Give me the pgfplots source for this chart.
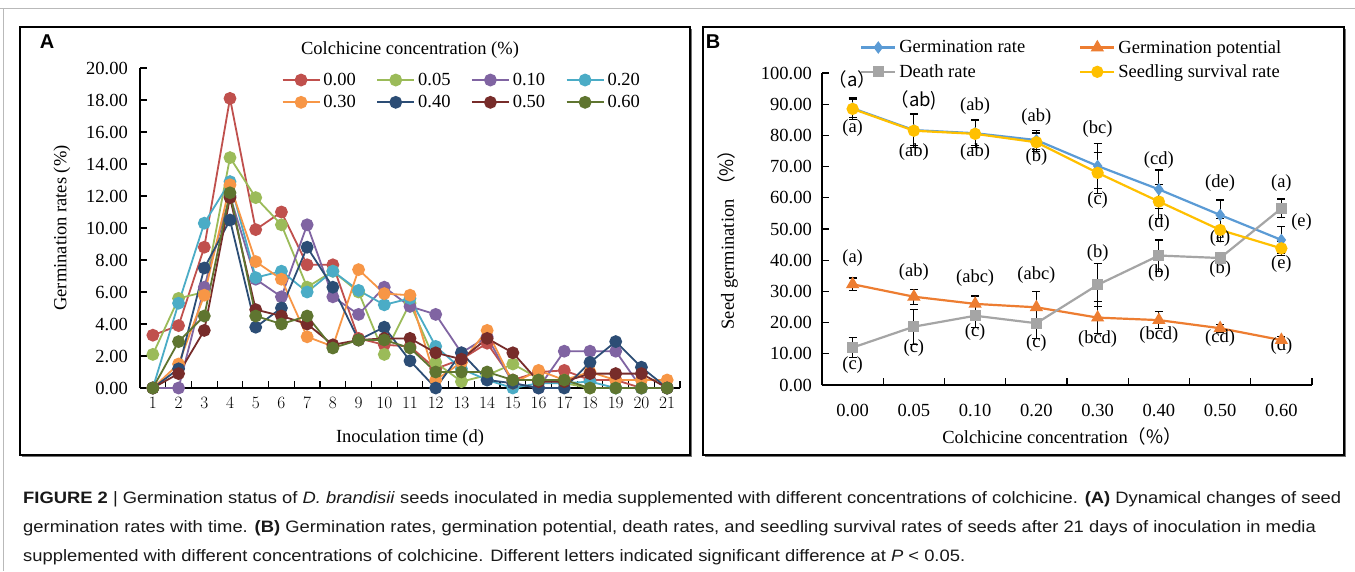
\documentclass[border=0pt]{standalone}
\usepackage{pgfplots}
\pgfplotsset{compat=1.18}
\usepackage{pgfplotstable}
\usepackage{graphicx}
\usepackage{fontspec}
\setmainfont{Liberation Serif}
\newfontfamily\capfont{Liberation Sans}
\newfontfamily\cjk{Noto Sans CJK SC}

% panel A colours (Excel 2010)
\definecolor{c1}{HTML}{C0504D}
\definecolor{c2}{HTML}{9BBB59}
\definecolor{c3}{HTML}{8064A2}
\definecolor{c4}{HTML}{4BACC6}
\definecolor{c5}{HTML}{F79646}
\definecolor{c6}{HTML}{2C4D75}
\definecolor{c7}{HTML}{772C2A}
\definecolor{c8}{HTML}{5F7530}
% panel B colours
\definecolor{bblue}{HTML}{5B9BD5}
\definecolor{borange}{HTML}{ED7D31}
\definecolor{bgrey}{HTML}{A5A5A5}
\definecolor{byellow}{HTML}{FFC000}

\newcommand{\lab}{\fontsize{18.5}{21}\selectfont}
\newcommand{\capsize}{\fontsize{16.5}{18}\selectfont\capfont}
\newcommand{\capA}{\textbf{FIGURE 2} | Germination status of \textit{D. brandisii} seeds inoculated in media supplemented with different concentrations of colchicine. \textbf{(A)} Dynamical changes of seed}
\newcommand{\capB}{germination rates with time. \textbf{(B)} Germination rates, germination potential, death rates, and seedling survival rates of seeds after 21 days of inoculation in media}
\newcommand{\capC}{supplemented with different concentrations of colchicine. Different letters indicated significant difference at \textit{P} < 0.05.}
\newlength\capw

% germination rate (%) per day, one column per colchicine concentration
\pgfplotstableread{
day  a    b    c    d    e    f    g    h
1    3.3  2.1  0    0    0    0    0    0
2    3.9  5.6  0    5.3  1.5  1.2  0.9  2.9
3    8.8  6.0  6.3  10.3 5.8  7.5  3.6  4.5
4    18.1 14.4 12.0 12.9 12.7 10.5 11.9 12.2
5    9.9  11.9 6.8  6.9  7.9  3.8  4.9  4.5
6    11.0 10.2 5.7  7.3  6.8  5.0  4.5  4.0
7    7.7  6.3  10.2 6.0  3.2  8.8  4.0  4.5
8    7.7  7.3  5.7  7.3  2.6  6.3  2.7  2.5
9    3.1  6.0  4.6  6.1  7.4  3.0  3.0  3.0
10   2.7  2.1  6.3  5.2  5.9  3.8  3.1  3.0
11   2.6  5.3  5.1  5.6  5.8  1.7  3.1  2.5
12   1.2  1.6  4.6  2.6  0.5  0    2.2  1.0
13   1.8  0.4  2.2  1.2  1.6  2.2  1.8  1.0
14   2.8  0.8  3.2  0.5  3.6  0.5  3.1  1.0
15   0.5  1.5  0.3  0    0.3  0.3  2.2  0.5
16   1.0  0.6  0    0.3  1.1  0    0.4  0.5
17   1.1  0.3  2.3  0.3  0.5  0    0.4  0.5
18   0.5  0    2.3  0.4  1.0  1.6  0.9  0
19   0.5  0    2.3  0    0.5  2.9  0.9  0
20   0    0    0    0    0.5  1.3  0.9  0
21   0    0    0    0    0.5  0    0    0
}\germA

% panel B: value and error for each index
\pgfplotstableread{
x  gr   gre  gp   gpe  dr   dre  ss   sse
0  88.7 3.0  32.3 2.0  12.0 3.2  88.5 3.5
1  81.7 5.0  28.3 2.4  18.7 5.6  81.5 5.4
2  80.7 4.0  26.0 2.5  22.2 3.7  80.5 4.5
3  78.5 3.0  24.9 5.0  19.8 4.8  77.8 3.0
4  70.2 7.3  21.6 5.1  32.1 6.9  68.0 6.5
5  62.7 6.2  20.8 2.7  41.5 5.0  58.8 5.5
6  54.5 4.8  18.2 1.2  40.7 1.2  49.7 3.7
7  46.5 4.2  14.4 1.2  56.6 3.0  43.8 2.3
}\germB

\pgfplotsset{
  lineA/.style={color=#1, line width=1.8pt, mark=*, mark size=5.5pt,
    mark options={solid, fill=#1}},
  ebar/.style={error bars/.cd, y dir=both, y explicit,
    error bar style={black, line width=1.2pt},
    error mark options={rotate=90, black, mark size=4pt, line width=1.2pt}},
}

\begin{document}%
\settowidth{\capw}{\capsize\capA}%
\pgfmathsetmacro\capsx{1318pt/\capw}%
\begin{tikzpicture}
\useasboundingbox (0,0) rectangle (1355pt,-571pt);
\fill[white] (0,0) rectangle (1355pt,-571pt);

% outer figure border
\draw[gray!55, line width=0.8pt] (0,-8pt) -- (1355pt,-8pt);
\draw[gray!55, line width=0.8pt] (3pt,-8pt) -- (3pt,-571pt);

% panel frames
\draw[line width=1.4pt] (20pt,-27pt) rectangle (690pt,-455pt);
\draw[black!55, line width=1.4pt] (691.5pt,-29pt) -- (691.5pt,-456.5pt) -- (22pt,-456.5pt);
\draw[line width=1.4pt] (703pt,-27pt) rectangle (1344pt,-455pt);
\draw[black!55, line width=1.4pt] (1345.5pt,-29pt) -- (1345.5pt,-456.5pt) -- (705pt,-456.5pt);

\node[font=\fontsize{20}{22}\selectfont\capfont\bfseries] at (47pt,-42pt) {A};
\node[font=\fontsize{20}{22}\selectfont\capfont\bfseries] at (713pt,-42pt) {B};

% ---------------- panel A ----------------
\begin{axis}[
  at={(140pt,-388pt)}, anchor=south west, scale only axis,
  width=540pt, height=320pt,
  xmin=0.5, xmax=21.5, ymin=0, ymax=20,
  axis x line=bottom, axis y line=left,
  axis line style={-, line width=1.2pt, black},
  tick align=inside,
  xtick={1,...,21}, major x tick style={draw=none},
  minor xtick={0.5,1.5,...,21.5},
  minor tick length=7pt, major tick length=7pt,
  every tick/.style={black, line width=1.2pt},
  ytick={0,2,...,20},
  yticklabels={0.00,2.00,4.00,6.00,8.00,10.00,12.00,14.00,16.00,18.00,20.00},
  tick label style={font=\lab},
  yticklabel style={anchor=east, inner sep=0pt, xshift=-12pt},
  xticklabel style={anchor=north, inner sep=0pt, yshift=-9pt},
  clip=false,
  legend columns=4,
  legend cell align=left,
  legend style={at={(axis description cs:0.262,0.994)}, anchor=north west,
    draw=none, fill=none, font=\lab, inner sep=0pt, row sep=2.5pt,
    nodes={inner sep=3pt},
    /tikz/every even column/.append style={column sep=17.5pt}},
  legend image code/.code={\draw[mark repeat=2,mark phase=2,#1]
    plot coordinates {(0pt,0pt) (18.5pt,0pt) (37pt,0pt)};},
]
\addplot[lineA=c1] table[x=day,y=a]{\germA};
\addplot[lineA=c2] table[x=day,y=b]{\germA};
\addplot[lineA=c3] table[x=day,y=c]{\germA};
\addplot[lineA=c4] table[x=day,y=d]{\germA};
\addplot[lineA=c5] table[x=day,y=e]{\germA};
\addplot[lineA=c6] table[x=day,y=f]{\germA};
\addplot[lineA=c7] table[x=day,y=g]{\germA};
\addplot[lineA=c8] table[x=day,y=h]{\germA};
\legend{0.00,0.05,0.10,0.20,0.30,0.40,0.50,0.60}
\end{axis}

\node[font=\lab] at (410pt,-50pt) {Colchicine concentration (\%)};
\node[font=\lab, rotate=90] at (62pt,-228pt) {Germination rates (\%)};
\node[font=\lab] at (410pt,-438pt) {Inoculation time (d)};

% ---------------- panel B ----------------
\begin{axis}[
  at={(822pt,-385pt)}, anchor=south west, scale only axis,
  width=490pt, height=312pt,
  xmin=-0.5, xmax=7.5, ymin=0, ymax=100,
  axis x line=bottom, axis y line=left,
  axis line style={-, line width=1.2pt, black},
  tick align=inside,
  xtick={0,...,7}, major x tick style={draw=none},
  xticklabels={0.00,0.05,0.10,0.20,0.30,0.40,0.50,0.60},
  minor xtick={-0.5,0.5,...,7.5},
  minor tick length=7pt, major tick length=7pt,
  every tick/.style={black, line width=1.2pt},
  ytick={0,10,...,100},
  yticklabels={0.00,10.00,20.00,30.00,40.00,50.00,60.00,70.00,80.00,90.00,100.00},
  tick label style={font=\lab},
  yticklabel style={anchor=east, inner sep=0pt, xshift=-10pt},
  xticklabel style={anchor=north, inner sep=0pt, yshift=-19pt},
  clip=false,
  legend columns=2,
  legend cell align=left,
  legend style={at={(axis description cs:0.0775,1.115)}, anchor=north west,
    draw=none, fill=none, font=\lab, inner sep=0pt, row sep=4pt,
    nodes={inner sep=3pt},
    /tikz/every even column/.append style={column sep=51pt}},
  legend image code/.code={\draw[mark repeat=2,mark phase=2,#1]
    plot coordinates {(0pt,0pt) (17pt,0pt) (34pt,0pt)};},
]
\addplot[color=bblue, line width=2.2pt, mark=diamond*, mark size=4.5pt,
  mark options={solid, fill=bblue}, ebar] table[x=x,y=gr,y error=gre]{\germB};
\addplot[color=borange, line width=2.2pt, mark=triangle*, mark size=5.5pt,
  mark options={solid, fill=borange}, ebar] table[x=x,y=gp,y error=gpe]{\germB};
\addplot[color=bgrey, line width=2.2pt, mark=square*, mark size=4.5pt,
  mark options={solid, fill=bgrey}, ebar] table[x=x,y=dr,y error=dre]{\germB};
\addplot[color=byellow, line width=2.2pt, mark=*, mark size=5pt,
  mark options={solid, fill=byellow}, ebar] table[x=x,y=ss,y error=sse]{\germB};
\legend{Germination rate, Germination potential, Death rate, Seedling survival rate}

% significance letters
\begin{scope}[every node/.style={font=\lab, inner sep=0pt}]
\node at (axis cs:0,97.8) {\cjk{（}a\cjk{）}};
\node at (axis cs:1,91.3) {\cjk{（}ab)};
\node at (axis cs:2,89.4) {(ab)};
\node at (axis cs:3,86.0) {(ab)};
\node at (axis cs:4,82.0) {(bc)};
\node at (axis cs:5,72.1) {(cd)};
\node at (axis cs:6,64.6) {(de)};
\node at (axis cs:7,64.6) {(a)};
\node at (axis cs:7.33,52.3) {(e)};
\node at (axis cs:0,82.3) {(a)};
\node at (axis cs:1,74.8) {(ab)};
\node at (axis cs:2,74.8) {(ab)};
\node at (axis cs:3,73.2) {(b)};
\node at (axis cs:4,59.3) {(c)};
\node at (axis cs:5,51.8) {(d)};
\node at (axis cs:6,47.0) {(e)};
\node at (axis cs:7,38.7) {(e)};
\node at (axis cs:0,40.6) {(a)};
\node at (axis cs:1,36.3) {(ab)};
\node at (axis cs:2,34.2) {(abc)};
\node at (axis cs:3,35.3) {(abc)};
\node at (axis cs:4,42.3) {(b)};
\node at (axis cs:5,35.8) {(b)};
\node at (axis cs:6,37.2) {(b)};
\node at (axis cs:0,6.4) {(c)};
\node at (axis cs:1,11.8) {(c)};
\node at (axis cs:2,17.1) {(c)};
\node at (axis cs:3,13.4) {(c)};
\node at (axis cs:4,14.6) {(bcd)};
\node at (axis cs:5,16.0) {(bcd)};
\node at (axis cs:6,15.0) {(cd)};
\node at (axis cs:7,12.5) {(d)};
\end{scope}
\end{axis}

\node[font=\lab, rotate=90] at (728pt,-235pt) {Seed germination \cjk{（}\%\cjk{）}};
\node[font=\lab] at (1062pt,-436pt) {Colchicine concentration\cjk{（}\%\cjk{）}};

% caption
\begin{scope}[every node/.style={anchor=base west, inner sep=0pt,
    font=\capsize, text=black!90}]
\node at (23pt,-503pt) {\scalebox{\capsx}[1]{\capA}};
\node at (23pt,-532pt) {\scalebox{\capsx}[1]{\capB}};
\node at (23pt,-561pt) {\scalebox{\capsx}[1]{\capC}};
\end{scope}
\end{tikzpicture}%
\end{document}
